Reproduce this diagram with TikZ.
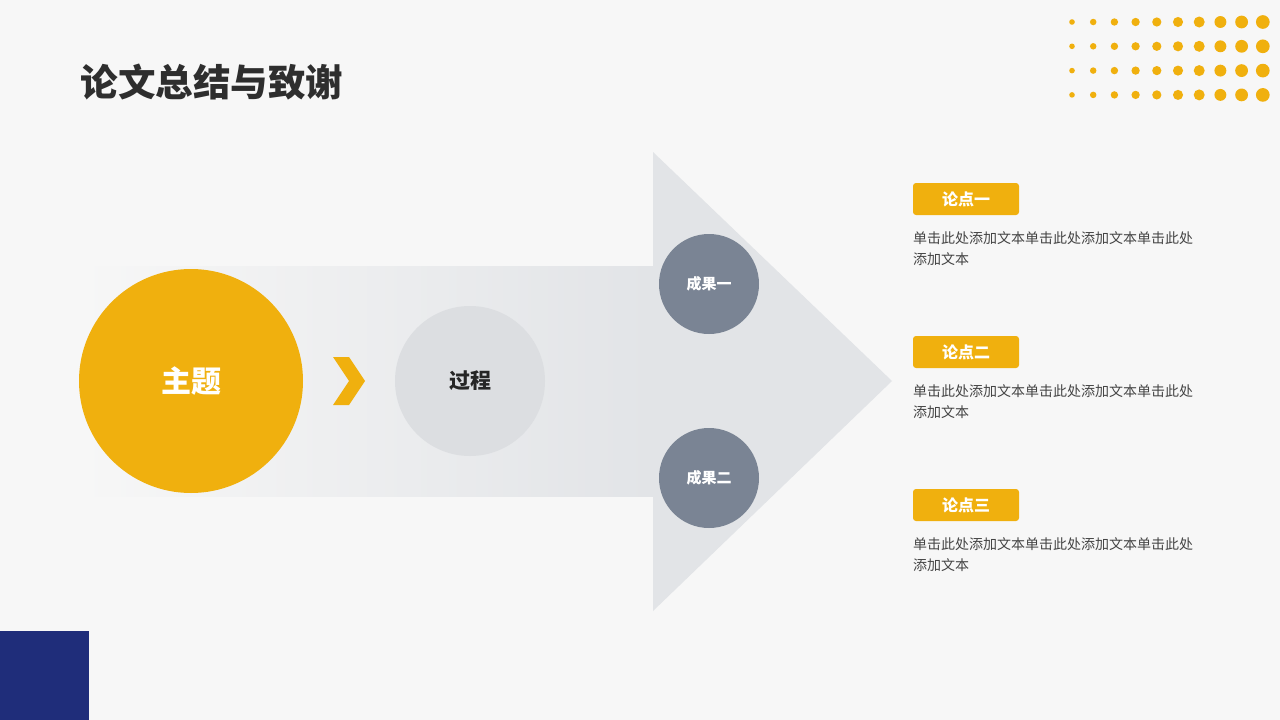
\documentclass[tikz,border=0pt]{standalone}
\usepackage{fontspec}
\setmainfont{Noto Sans CJK SC}
\usetikzlibrary{positioning}
\definecolor{gold}{HTML}{F0B00E}
\definecolor{slate}{HTML}{7A8494}
\definecolor{navy}{HTML}{1F2D7A}
\definecolor{paper}{HTML}{F7F7F7}
\definecolor{arrowgray}{HTML}{E2E4E7}
\definecolor{procgray}{HTML}{DCDEE1}
\definecolor{textgray}{HTML}{444444}
\tikzset{
  result/.style={circle,fill=slate,minimum size=100pt,inner sep=0pt,text=white,font=\fontsize{15}{15}\selectfont\bfseries},
  tag/.style={rectangle,rounded corners=3pt,fill=gold,minimum width=106pt,minimum height=32pt,inner sep=0pt,text=white,font=\fontsize{16}{16}\selectfont\bfseries},
  body/.style={anchor=north west,align=left,text=textgray,font=\fontsize{14}{21}\selectfont,inner sep=0pt}
}
\begin{document}
\begin{tikzpicture}[x=1pt,y=-1pt]
  \fill[paper] (0,0) rectangle (1280,720);
  \useasboundingbox (0,0) rectangle (1280,720);
  % arrow
  \shade[left color=paper,right color=arrowgray,shading angle=90] (80,266) rectangle (653,496);
  \fill[arrowgray] (653,152) -- (892,381) -- (653,611) -- cycle;
  % dots
  \foreach \r in {0,...,3}
    \foreach \c in {0,...,9}
      \fill[gold] (1072+21.2*\c,22+24.3*\r) circle ({2.8+0.45*\c});
  \fill[navy] (0,631) rectangle (89,720);
  \node[anchor=west,font=\fontsize{37.5}{37.5}\selectfont\bfseries,text=black!82] (title) at (77,82) {论文总结与致谢};
  \node[circle,fill=gold,minimum size=224pt,inner sep=0pt,text=white,font=\fontsize{30}{30}\selectfont\bfseries] (topic) at (191,381) {主题};
  \fill[gold] (333,357) -- (349,357) -- (365,381) -- (349,405) -- (333,405) -- (349,381) -- cycle;
  \node[circle,fill=procgray,minimum size=150pt,inner sep=0pt,text=black!85,font=\fontsize{21}{21}\selectfont\bfseries] (process) at (470,381) {过程};
  \node[result] (res1) at (709,284) {成果一};
  \node[result] (res2) at (709,478) {成果二};
  \node[tag] (pt1) at (966,199) {论点一};
  \node[body] (txt1) at (913,231) {单击此处添加文本单击此处添加文本单击此处\\添加文本};
  \node[tag] (pt2) at (966,352) {论点二};
  \node[body] (txt2) at (913,384) {单击此处添加文本单击此处添加文本单击此处\\添加文本};
  \node[tag] (pt3) at (966,505) {论点三};
  \node[body] (txt3) at (913,537) {单击此处添加文本单击此处添加文本单击此处\\添加文本};
\end{tikzpicture}
\end{document}
